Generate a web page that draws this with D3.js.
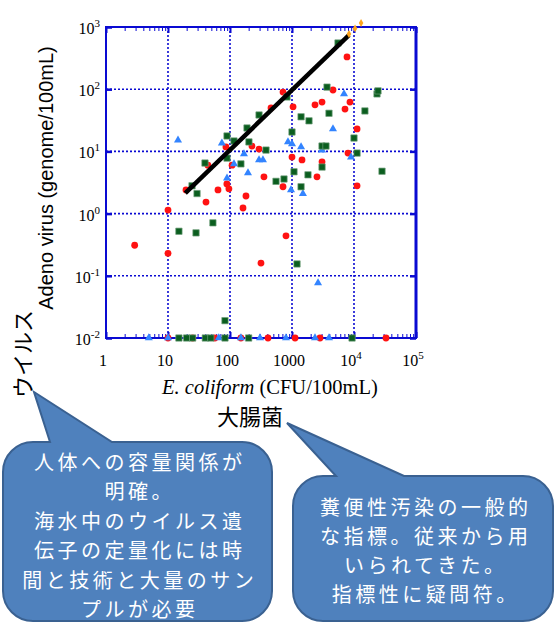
<!DOCTYPE html>
<html>
<head>
<meta charset="utf-8">
<script src="https://cdn.jsdelivr.net/npm/d3@7"></script>
<style>
  body { margin: 0; background: #fff; }
  svg { display: block; }
</style>
</head>
<body>
<svg id="chart" width="558" height="624"></svg>
<script>
// Adenovirus (genome/100mL) against E. coliform (CFU/100mL), log–log.
// Values on the bottom edge (0.01) are non-detects.

const redX = [2.9, 10, 10, 19.5, 41, 44, 64, 86, 89, 96, 108, 162, 181, 226, 294, 316, 353, 459, 716, 716,
              800, 1000, 1040, 1450, 2350, 2530, 3050, 3050, 4580, 7160, 7710, 8000, 8610, 11200, 11200,
              10, 25, 57, 150, 410, 1120, 2830, 32800];
const redY = [0.31, 1.14, 0.23, 2.4, 1.53, 6.0, 2.4, 11.8, 3.0, 2.5, 6.0, 1.23, 1.92, 12.2, 10.9, 0.16, 3.9, 50, 90, 2.7,
              0.44, 8.1, 52, 7.3, 56, 3.9, 62, 6.8, 97, 48, 330, 9.4, 62, 23, 2.8,
              0.01, 0.01, 0.01, 0.01, 0.01, 0.01, 0.01, 0.01];

const blueX = [14.5, 74, 89.5, 116, 168, 195, 294, 340, 861, 1000, 1400, 3050, 4580, 6900, 8950, 964, 1500, 2630,
               4.9, 10, 66, 150, 305, 800, 2350, 3950];
const blueY = [15.2, 13.6, 3.7, 6.3, 9.1, 4.5, 7.3, 7.3, 14.2, 13.2, 11.8, 10.5, 23, 84, 8.1, 2.4, 2.1, 0.077,
               0.01, 0.01, 0.01, 0.01, 0.01, 0.01, 0.01, 0.01];

const greenX = [15, 24.4, 29.4, 28.3, 39.5, 53, 83, 89.5, 89.5, 116, 150, 188, 202, 294, 381, 552, 743, 830, 1000,
                1077, 1205, 1400, 1400, 1810, 1880, 3050, 3530, 3050, 3670, 3950, 5520, 10000, 11200, 15000,
                23500, 24400, 28300,
                15, 20, 25, 40, 49, 83, 200, 9300];
const greenY = [0.52, 2.8, 2.1, 0.49, 6.5, 0.71, 0.019, 17.7, 7.8, 14.7, 6.3, 23.8, 14.2, 38.5, 10.5, 3.3, 3.6, 75, 20.5,
                4.7, 0.155, 36, 2.7, 4.2, 31, 12.2, 12.2, 5.6, 108, 41, 553, 16.4, 9.4, 44.7,
                84, 94, 4.8,
                0.01, 0.01, 0.01, 0.01, 0.01, 0.01, 0.01, 0.01];

const orangeX = [8300, 10400, 13000];
const orangeY = [770, 950, 1160];

// regression line end points
const fitX = [19, 8300];
const fitY = [2.14, 743];

const xTicks = [1, 10, 100, 1000, 1e4, 1e5];
const xTickLabels = [["1"], ["10"], ["100"], ["1000"], ["10", "4"], ["10", "5"]];
const yTicks = [1e-2, 1e-1, 1, 10, 100, 1000];
const yTickExp = ["-2", "-1", "0", "1", "2", "3"];

const xTitleItalic = "E. coliform";
const xTitleRest = " (CFU/100mL)";
const yTitle = "Adeno virus (genome/100mL)";
const xNote = "大腸菌";
const yNote = "ウイルス";
const leftNote = ["人体への容量関係が", "明確。", "海水中のウイルス遺", "伝子の定量化には時", "間と技術と大量のサン", "プルが必要"];
const rightNote = ["糞便性汚染の一般的", "な指標。従来から用", "いられてきた。", "指標性に疑問符。"];

const svg = d3.select("#chart");
const L = 106, R = 416, T = 27, B = 338;
const x = d3.scaleLog().domain([1, 1e5]).range([L, R]);
const y = d3.scaleLog().domain([1e-2, 1e3]).range([B, T]);

const AX = "#0a0ad2";
const serif = "'Liberation Serif', 'Times New Roman', serif";
const sans = "'Liberation Sans', Arial, sans-serif";
const cjk = "'Noto Sans CJK JP', sans-serif";

// grid (dotted)
const grid = svg.append("g").attr("stroke", AX).attr("stroke-width", 1.6).attr("stroke-dasharray", "2,2");
grid.selectAll("line.gx").data(xTicks.slice(1, -1)).join("line")
  .attr("x1", d => x(d)).attr("x2", d => x(d)).attr("y1", T).attr("y2", B);
grid.selectAll("line.gy").data(yTicks.slice(1, -1)).join("line")
  .attr("y1", d => y(d)).attr("y2", d => y(d)).attr("x1", L).attr("x2", R);

// minor ticks on top and bottom
const minors = [];
for (let e = 0; e < 5; e++) for (let m = 2; m <= 9; m++) minors.push(m * Math.pow(10, e));
function styleAxis(g, w) {
  g.select(".domain").remove();
  g.selectAll("line").attr("stroke", AX).attr("stroke-width", w);
  g.selectAll("text").remove();
}
svg.append("g").attr("transform", `translate(0,${B})`)
  .call(d3.axisBottom(x).tickValues(minors).tickSize(-4).tickFormat(""))
  .call(g => styleAxis(g, 1));
svg.append("g").attr("transform", `translate(0,${T})`)
  .call(d3.axisTop(x).tickValues(minors).tickSize(-4).tickFormat(""))
  .call(g => styleAxis(g, 1));
// major ticks
svg.append("g").attr("transform", `translate(0,${B})`)
  .call(d3.axisBottom(x).tickValues(xTicks).tickSize(-6).tickFormat(""))
  .call(g => styleAxis(g, 2));
svg.append("g").attr("transform", `translate(0,${T})`)
  .call(d3.axisTop(x).tickValues(xTicks).tickSize(-6).tickFormat(""))
  .call(g => styleAxis(g, 2));
svg.append("g").attr("transform", `translate(${L},0)`)
  .call(d3.axisLeft(y).tickValues(yTicks).tickSize(-6).tickFormat(""))
  .call(g => styleAxis(g, 2.5));
svg.append("g").attr("transform", `translate(${R},0)`)
  .call(d3.axisRight(y).tickValues(yTicks).tickSize(-6).tickFormat(""))
  .call(g => styleAxis(g, 2.5));

// frame
svg.append("rect").attr("x", L).attr("y", T).attr("width", R - L).attr("height", B - T)
  .attr("fill", "none").attr("stroke", AX).attr("stroke-width", 2);
svg.append("line").attr("x1", R).attr("x2", R).attr("y1", T).attr("y2", B)
  .attr("stroke", AX).attr("stroke-width", 3);

// tick labels
const xl = svg.append("g").attr("font-family", serif).attr("font-size", 16).attr("fill", "#000");
xTicks.forEach((v, i) => {
  const t = xl.append("text").attr("x", x(v) - 3).attr("y", 366).attr("text-anchor", "middle");
  t.append("tspan").text(xTickLabels[i][0]);
  if (xTickLabels[i][1]) t.append("tspan").attr("dy", -7).attr("font-size", 11).text(xTickLabels[i][1]);
});
const yl = svg.append("g").attr("font-family", serif).attr("font-size", 16).attr("fill", "#000");
yTicks.forEach((v, i) => {
  const t = yl.append("text").attr("x", 100).attr("y", y(v) + 7).attr("text-anchor", "end");
  t.append("tspan").text("10");
  t.append("tspan").attr("dy", -7).attr("font-size", 11).text(yTickExp[i]);
});

// data marks
const sym = (type, size) => d3.symbol().type(type).size(size)();
svg.append("g").selectAll("circle").data(d3.zip(redX, redY)).join("circle")
  .attr("cx", d => x(d[0])).attr("cy", d => y(d[1])).attr("r", 3.4)
  .attr("fill", "#ff1212");
svg.append("g").selectAll("path").data(d3.zip(blueX, blueY)).join("path")
  .attr("transform", d => `translate(${x(d[0])},${y(d[1])})`)
  .attr("d", sym(d3.symbolTriangle, 28)).attr("fill", "#3384ff");
svg.append("g").selectAll("path").data(d3.zip(greenX, greenY)).join("path")
  .attr("transform", d => `translate(${x(d[0])},${y(d[1])})`)
  .attr("d", sym(d3.symbolSquare, 40)).attr("fill", "#0b5e1f")
  .attr("stroke", "#6f9e7a").attr("stroke-width", 0.7);

// regression line
svg.append("path").datum(d3.zip(fitX, fitY))
  .attr("d", d3.line().x(d => x(d[0])).y(d => y(d[1])))
  .attr("stroke", "#000").attr("stroke-width", 4.5).attr("fill", "none");

svg.append("g").selectAll("path").data(d3.zip(orangeX, orangeY)).join("path")
  .attr("transform", d => `translate(${x(d[0])},${y(d[1])})`)
  .attr("d", sym(d3.symbolDiamond, 18)).attr("fill", "#ffa41c");

// axis titles
const xt = svg.append("text").attr("x", 270).attr("y", 394).attr("text-anchor", "middle")
  .attr("font-family", serif).attr("font-size", 20.5).attr("fill", "#000");
xt.append("tspan").attr("font-style", "italic").text(xTitleItalic);
xt.append("tspan").text(xTitleRest);

svg.append("text").attr("transform", "translate(53,178) rotate(-90)").attr("text-anchor", "middle")
  .attr("font-family", sans).attr("font-size", 20).attr("fill", "#000").text(yTitle);

svg.append("text").attr("x", 250).attr("y", 425).attr("text-anchor", "middle")
  .attr("font-family", cjk).attr("font-size", 22).attr("fill", "#000").text(xNote);

svg.append("text").attr("transform", "translate(31,354) rotate(-90)").attr("text-anchor", "middle")
  .attr("font-family", cjk).attr("font-size", 22).attr("fill", "#000").text(yNote);

// speech bubbles: rounded box with a tail rising from the top edge
function bubble(x0, y0, w, h, r, b1, b2, tx, ty) {
  const p = d3.path();
  p.moveTo(x0 + r, y0);
  p.lineTo(b1, y0);
  p.lineTo(tx, ty);
  p.lineTo(b2, y0);
  p.lineTo(x0 + w - r, y0);
  p.arcTo(x0 + w, y0, x0 + w, y0 + r, r);
  p.lineTo(x0 + w, y0 + h - r);
  p.arcTo(x0 + w, y0 + h, x0 + w - r, y0 + h, r);
  p.lineTo(x0 + r, y0 + h);
  p.arcTo(x0, y0 + h, x0, y0 + h - r, r);
  p.lineTo(x0, y0 + r);
  p.arcTo(x0, y0, x0 + r, y0, r);
  p.closePath();
  return p.toString();
}
const bubbleFill = "#4f81bd", bubbleStroke = "#3a6191";
svg.append("path").attr("d", bubble(3, 442, 269, 179, 30, 50, 112, 34, 392))
  .attr("fill", bubbleFill).attr("stroke", bubbleStroke).attr("stroke-width", 2);
svg.append("path").attr("d", bubble(293, 476, 260, 145, 30, 336, 404, 287, 423))
  .attr("fill", bubbleFill).attr("stroke", bubbleStroke).attr("stroke-width", 2);

// bubble text: tight line spacing, slightly tracked out
const noteSize = 20, noteTrack = 3.5;
svg.append("g").attr("font-family", cjk).attr("font-size", noteSize).attr("letter-spacing", noteTrack)
  .attr("fill", "#fff").attr("text-anchor", "middle")
  .selectAll("text").data(leftNote).join("text")
  .attr("x", 138 + noteTrack / 2).attr("y", (d, i) => 470 + i * 29.4).text(d => d);
svg.append("g").attr("font-family", cjk).attr("font-size", noteSize).attr("letter-spacing", noteTrack)
  .attr("fill", "#fff").attr("text-anchor", "middle")
  .selectAll("text").data(rightNote).join("text")
  .attr("x", 424 + noteTrack / 2).attr("y", (d, i) => 515 + i * 29).text(d => d);
</script>
</body>
</html>
